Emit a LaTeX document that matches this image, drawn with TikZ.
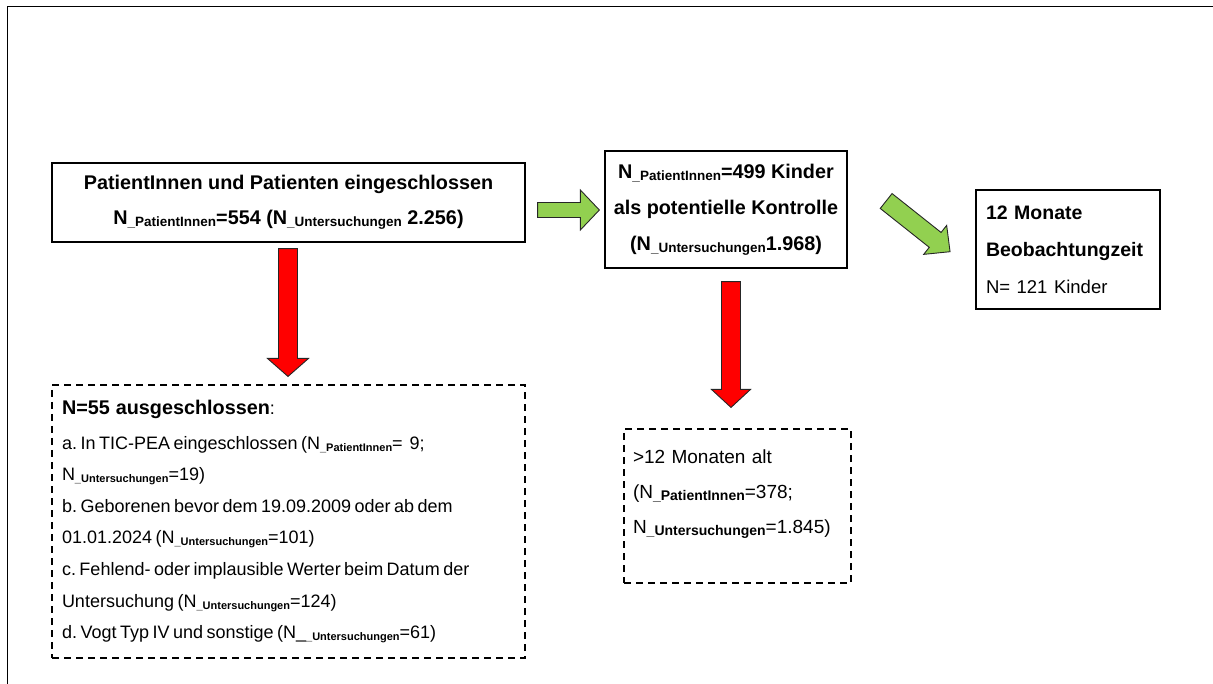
\documentclass[tikz,border=0pt]{standalone}
\usepackage{fontspec}
\setmainfont{Liberation Sans}
\usetikzlibrary{calc}
\definecolor{arrgreen}{HTML}{92D050}
\definecolor{arrred}{HTML}{FF0000}
\newcommand\subtxt[2][13.5]{{\fontsize{#1}{#1}\selectfont\bfseries\raisebox{-2pt}{\_#2}}}
\newcommand\tightsp{\spaceskip=3.5pt plus 1pt minus 1pt\relax}
\newcommand\blockarrow[6]{%
  \coordinate (hb) at ($(#2)!#5!(#1)$);
  \filldraw[arrowline, fill=#6]
    ($(#1)!#3!90:(#2)$) -- ($(hb)!#3!-90:(#1)$) -- ($(hb)!#4!-90:(#1)$) -- (#2)
    -- ($(hb)!#4!90:(#1)$) -- ($(hb)!#3!90:(#1)$) -- ($(#1)!#3!-90:(#2)$) -- cycle;}
\frenchspacing
\begin{document}
\begin{tikzpicture}[x=1pt,y=-1pt,
  box/.style={draw=black, line width=1.3pt, inner sep=0pt},
  dbox/.style={draw=black, line width=1.1pt, dash pattern=on 7pt off 5pt, inner sep=0pt},
  arrowline/.style={draw=black!85, line width=0.9pt, line join=miter}]
\useasboundingbox (0,0) rectangle (1213,684);
\draw[line width=1pt] (7,684) -- (7,7) -- (1213,7);

\node[box, align=center, minimum width=473pt, minimum height=79pt,
      font=\fontsize{19.8}{35}\selectfont\bfseries] (incl) at (288.5,202.5)
  {PatientInnen und Patienten eingeschlossen\\N\subtxt{PatientInnen}=554 (N\subtxt{Untersuchungen} 2.256)};

\node[box, align=center, minimum width=242pt, minimum height=117pt,
      font=\fontsize{19.8}{36}\selectfont\bfseries] (ctrl) at (726,209.5)
  {N\subtxt{PatientInnen}=499 Kinder\\als potentielle Kontrolle\\(N\subtxt{Untersuchungen}1.968)};

\node[box, align=left, text width=164pt, inner xsep=10pt, minimum height=119pt,
      font=\fontsize{19.5}{37}\selectfont\bfseries] (obs) at (1068,249.5)
  {12 Monate\\Beobachtungzeit\\{\mdseries\fontsize{18.5}{37}\selectfont N= 121 Kinder}};

\node[dbox, align=left, text width=453pt, inner xsep=10pt, minimum height=273pt,
      font=\fontsize{18}{31.6}\selectfont] (excl) at (288.5,521.5)
  {{\fontsize{19.8}{31.6}\selectfont\bfseries N=55 ausgeschlossen}:\tightsp\\[3pt]
   a. In TIC-PEA eingeschlossen (N\subtxt[11]{PatientInnen}=\ \ 9;\\
   N\subtxt[11]{Untersuchungen}=19)\\
   b. Geborenen bevor dem 19.09.2009 oder ab dem\\
   01.01.2024 (N\subtxt[11]{Untersuchungen}=101)\\
   c. Fehlend- oder implausible Werter beim Datum der\\
   Untersuchung (N\subtxt[11]{Untersuchungen}=124)\\
   d. Vogt Typ IV und sonstige (N\_\subtxt[11]{Untersuchungen}=61)};

\node[dbox, align=left, text width=209pt, inner xsep=9pt, minimum height=154pt,
      font=\fontsize{19}{35}\selectfont] (old) at (737.5,506)
  {>12 Monaten alt\\(N\subtxt[14]{PatientInnen}=378;\\N\subtxt[14]{Untersuchungen}=1.845)\\[-7pt]~};

\coordinate (g1s) at ($(incl.east)+(12,7.5)$);
\coordinate (g1e) at ($(ctrl.west)+(-5,0.5)$);
\coordinate (g2s) at ($(ctrl.east)+(38.5,-8.5)$);
\coordinate (g2e) at ($(obs.west)+(-25.3,2.2)$);
\coordinate (r1s) at ($(incl.south)+(-0.5,6)$);
\coordinate (r1e) at ($(excl.north)+(-0.5,-8)$);
\coordinate (r2s) at ($(ctrl.south)+(5,13)$);
\coordinate (r2e) at ($(old.north)+(-6.5,-21)$);

\blockarrow{g1s}{g1e}{7.5pt}{20pt}{19pt}{arrgreen}
\blockarrow{g2s}{g2e}{9.5pt}{18.5pt}{19pt}{arrgreen}
\blockarrow{r1s}{r1e}{9.5pt}{20.5pt}{18pt}{arrred}
\blockarrow{r2s}{r2e}{9.5pt}{19.5pt}{18pt}{arrred}
\end{tikzpicture}
\end{document}
